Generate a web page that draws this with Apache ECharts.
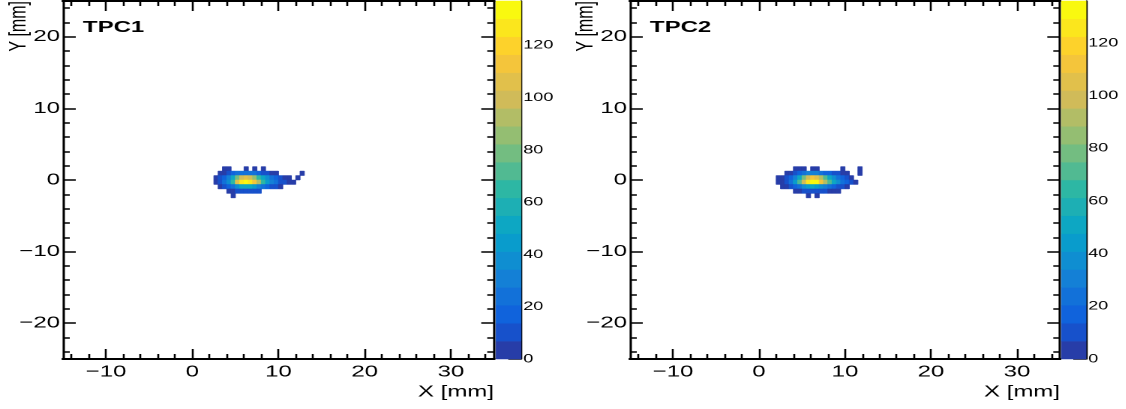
<!DOCTYPE html>
<html>
<head>
<meta charset="utf-8">
<script src="https://cdn.jsdelivr.net/npm/echarts@6/dist/echarts.min.js"></script>
<style>
  html, body { margin: 0; padding: 0; background: #fff; overflow: hidden; }
  #wrap { width: 1126px; height: 409px; overflow: hidden; }
  /* the canvas is drawn narrow and stretched horizontally, like the original ROOT canvas export */
  #chart { width: 750.667px; height: 409px; transform: scaleX(1.5); transform-origin: 0 0; }
</style>
</head>
<body>
<div id="wrap"><div id="chart"></div></div>
<script>
// ---- histogram binning (mm) ----
const binX = 0.5;
const binY = 0.625;
const firstColLowX = 1.5;
const rowLowY = [1.25, 0.625, 0, -0.625, -1.25, -1.875, -2.5];

// ---- axis ranges and tick labels ----
const xRange = [-15, 35];
const yRange = [-25, 25];
const xMajorTicks = [-10, 0, 10, 20, 30];
const yMajorTicks = [-20, -10, 0, 10, 20];
const zTicks = [0, 20, 40, 60, 80, 100, 120];
const nContours = 20;

// ---- bin contents, one row per y bin (top to bottom), 23 x bins each ----
const tpc1Rows = [
  [0,0,0,0,3,2,0,0,0,3,0,4,0,3,0,0,0,0,0,0,0,0,0],
  [0,0,0,2,4,8,14,21,26,27,26,22,18,13,9,6,4,0,0,0,0,0,2],
  [0,0,3,7,15,31,51,77,96,103,98,84,67,49,35,24,15,9,5,3,0,2,0],
  [0,0,4,10,21,41,68,103,127,137,130,112,89,66,47,32,21,12,7,4,2,0,0],
  [0,0,0,4,8,16,26,39,48,52,49,42,33,25,18,12,8,5,0,0,0,0,0],
  [0,0,0,0,0,3,5,8,10,11,10,9,7,0,0,0,0,0,0,0,0,0,0],
  [0,0,0,0,0,0,2,0,0,0,0,0,0,0,0,0,0,0,0,0,0,0,0]
];
const tpc2Rows = [
  [0,0,0,0,0,3,3,2,0,4,3,0,0,0,0,0,3,0,0,0,2,0,0],
  [0,0,0,3,5,9,15,22,28,30,29,25,20,15,11,8,5,3,0,0,2,0,0],
  [0,2,4,9,17,33,54,79,100,109,104,91,73,54,39,27,17,11,6,0,0,0,0],
  [0,3,5,11,22,41,68,99,125,136,131,114,91,68,49,34,22,14,8,4,0,0,0],
  [0,0,2,4,8,14,24,35,44,48,46,40,32,24,17,12,8,5,0,0,0,0,0],
  [0,0,0,0,0,4,6,9,11,12,12,10,8,6,4,3,0,0,0,0,0,0,0],
  [0,0,0,0,0,0,0,0,2,0,3,0,0,0,0,0,0,0,0,0,0,0,0]
];
const tpc1Max = 137;
const tpc2Max = 136;

// ---- kBird palette ----
const birdStops = [0.0, 0.125, 0.25, 0.375, 0.5, 0.625, 0.75, 0.875, 1.0];
const birdR = [0.2082, 0.0592, 0.0780, 0.0232, 0.1802, 0.5301, 0.8186, 0.9956, 0.9764];
const birdG = [0.1664, 0.3599, 0.5041, 0.6419, 0.7178, 0.7492, 0.7328, 0.7862, 0.9832];
const birdB = [0.5293, 0.8684, 0.8385, 0.7914, 0.6425, 0.4662, 0.3499, 0.1968, 0.0539];

function birdColor(f) {
  f = Math.max(0, Math.min(1, f));
  let i = 0;
  while (i < birdStops.length - 2 && f > birdStops[i + 1]) i++;
  const t = (f - birdStops[i]) / (birdStops[i + 1] - birdStops[i]);
  const c = (arr) => Math.round(255 * (arr[i] + (arr[i + 1] - arr[i]) * t));
  return 'rgb(' + c(birdR) + ',' + c(birdG) + ',' + c(birdB) + ')';
}
function levelColor(level) {
  let idx = Math.floor((level + 0.99) * 255 / nContours);
  if (idx > 254) idx = 254;
  return birdColor(idx / 255);
}
function cellColor(z, zmax) {
  return levelColor(Math.floor(0.01 + z * nContours / zmax));
}

function cellsFrom(rows) {
  const out = [];
  rows.forEach((row, r) => {
    row.forEach((z, c) => {
      if (z > 0) out.push([firstColLowX + c * binX, rowLowY[r], z]);
    });
  });
  return out;
}
function minorTicks(lo, hi, step, majors) {
  const out = [];
  for (let v = Math.ceil(lo / step) * step; v < hi; v += step) {
    const r = Math.round(v * 1000) / 1000;
    if (r > lo && !majors.includes(r)) out.push(r);
  }
  return out;
}
const xMinorTicks = minorTicks(xRange[0], xRange[1], 2, xMajorTicks);
const yMinorTicks = minorTicks(yRange[0], yRange[1], 2, yMajorTicks);

const FONT = '"Liberation Sans", Arial, Helvetica, sans-serif';
const BLACK = '#000';
const fmt = (v) => (v < 0 ? '\u2212' + Math.abs(v) : String(v));

// ---- layout (unstretched canvas coordinates) ----
const panels = [
  { left: 42, width: 287.33, barLeft: 330.67, barWidth: 16.67, rows: tpc1Rows, zmax: tpc1Max, title: 'TPC1' },
  { left: 420, width: 286.67, barLeft: 707.67, barWidth: 16.33, rows: tpc2Rows, zmax: tpc2Max, title: 'TPC2' }
];
const TOP = 1, HEIGHT = 358;

const grid = [], xAxis = [], yAxis = [], series = [], graphic = [];

function xAx(gi, pos, ticks, len, labels) {
  return {
    gridIndex: gi, type: 'value', min: xRange[0], max: xRange[1], position: pos,
    axisLine: { show: true, onZero: false, lineStyle: { color: BLACK, width: 2 } },
    axisTick: { show: true, inside: true, length: len, customValues: ticks, lineStyle: { color: BLACK, width: 1.3 } },
    axisLabel: labels ? { show: true, customValues: ticks, margin: 5, fontFamily: FONT, fontSize: 16, color: BLACK, formatter: fmt } : { show: false },
    splitLine: { show: false }, minorTick: { show: false }
  };
}
function yAx(gi, pos, ticks, len, labels) {
  return {
    gridIndex: gi, type: 'value', min: yRange[0], max: yRange[1], position: pos,
    axisLine: { show: true, onZero: false, lineStyle: { color: BLACK, width: 1.33 } },
    axisTick: { show: true, inside: true, length: len, customValues: ticks, lineStyle: { color: BLACK, width: 1.5 } },
    axisLabel: labels ? { show: true, customValues: ticks, margin: 2, fontFamily: FONT, fontSize: 16, color: BLACK, formatter: fmt } : { show: false },
    splitLine: { show: false }, minorTick: { show: false }
  };
}

panels.forEach((p) => {
  // grid for major ticks + data, grid for minor ticks, grid for the colour bar
  const gMain = grid.length;
  grid.push({ left: p.left, top: TOP, width: p.width, height: HEIGHT, outerBoundsMode: 'none', containLabel: false });
  const gMinor = grid.length;
  grid.push({ left: p.left, top: TOP, width: p.width, height: HEIGHT, outerBoundsMode: 'none', containLabel: false });
  const gBar = grid.length;
  grid.push({ left: p.barLeft, top: TOP, width: p.barWidth, height: HEIGHT, outerBoundsMode: 'none', containLabel: false });

  const xMainB = xAxis.length; xAxis.push(xAx(gMain, 'bottom', xMajorTicks, 10, true));
  xAxis.push(xAx(gMain, 'top', xMajorTicks, 10, false));
  xAxis.push(xAx(gMinor, 'bottom', xMinorTicks, 5, false));
  xAxis.push(xAx(gMinor, 'top', xMinorTicks, 5, false));
  const yMainL = yAxis.length; yAxis.push(yAx(gMain, 'left', yMajorTicks, 8.5, true));
  yAxis.push(yAx(gMain, 'right', yMajorTicks, 8.5, false));
  yAxis.push(yAx(gMinor, 'left', yMinorTicks, 4.5, false));
  yAxis.push(yAx(gMinor, 'right', yMinorTicks, 4.5, false));

  const xBar = xAxis.length;
  xAxis.push({ gridIndex: gBar, type: 'value', min: 0, max: 1, show: false });
  const yBar = yAxis.length;
  yAxis.push({
    gridIndex: gBar, type: 'value', min: 0, max: p.zmax, position: 'right',
    axisLine: { show: true, onZero: false, lineStyle: { color: BLACK, width: 1.33 } },
    axisTick: { show: true, inside: true, length: 8.5, customValues: zTicks, lineStyle: { color: BLACK, width: 1.5 } },
    axisLabel: { show: true, customValues: zTicks, margin: 1.5, fontFamily: FONT, fontSize: 12, color: BLACK },
    splitLine: { show: false }
  });

  // 2D histogram cells
  const zmax = p.zmax;
  series.push({
    type: 'custom', xAxisIndex: xMainB, yAxisIndex: yMainL, silent: true, animation: false, clip: true,
    data: cellsFrom(p.rows),
    renderItem: (params, api) => {
      const x0 = api.value(0), y0 = api.value(1), z = api.value(2);
      const a = api.coord([x0, y0 + binY]);
      const b = api.coord([x0 + binX, y0]);
      const c = cellColor(z, zmax);
      return { type: 'rect', shape: { x: a[0], y: a[1], width: b[0] - a[0], height: b[1] - a[1] },
               style: { fill: c, stroke: c, lineWidth: 0.5 } };
    }
  });

  // colour bar bands
  const bands = [];
  for (let k = 0; k < nContours; k++) bands.push([0.5, k * zmax / nContours, (k + 1) * zmax / nContours, k]);
  series.push({
    type: 'custom', xAxisIndex: xBar, yAxisIndex: yBar, silent: true, animation: false,
    data: bands,
    renderItem: (params, api) => {
      const a = api.coord([0, api.value(2)]);
      const b = api.coord([1, api.value(1)]);
      const c = levelColor(api.value(3));
      return { type: 'rect', shape: { x: a[0], y: a[1], width: b[0] - a[0], height: b[1] - a[1] },
               style: { fill: c, stroke: c, lineWidth: 0.5 } };
    }
  });

  // titles and axis names
  graphic.push({ type: 'text', x: p.left + 13.3, y: 27.5, silent: true,
    style: { text: p.title, font: 'bold 16px ' + FONT, fill: BLACK, textAlign: 'left', textVerticalAlign: 'middle', align: 'left', verticalAlign: 'middle' } });
  graphic.push({ type: 'text', x: p.left + p.width, y: 392, silent: true,
    style: { text: 'X [mm]', font: '16px ' + FONT, fill: BLACK, textAlign: 'right', textVerticalAlign: 'middle', align: 'right', verticalAlign: 'middle' } });
  graphic.push({ type: 'text', x: p.left - 29.3, y: 1, rotation: Math.PI / 2, silent: true,
    style: { text: 'Y [mm]', font: '16px ' + FONT, fill: BLACK, textAlign: 'right', textVerticalAlign: 'middle', align: 'right', verticalAlign: 'middle' } });
});

const chart = echarts.init(document.getElementById('chart'), null, { renderer: 'canvas', devicePixelRatio: 2 });
chart.setOption({
  animation: false,
  backgroundColor: '#fff',
  grid, xAxis, yAxis, series, graphic
});
</script>
</body>
</html>
